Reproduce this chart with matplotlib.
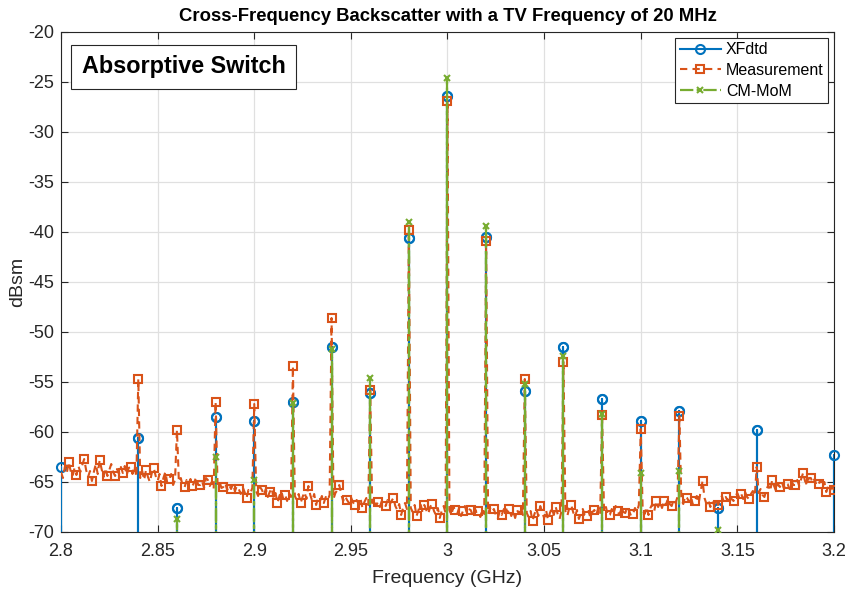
import numpy as np
import matplotlib
matplotlib.use("Agg")
import matplotlib.pyplot as plt

plt.rcParams['font.family'] = ['Liberation Sans', 'DejaVu Sans']
plt.rcParams['axes.unicode_minus'] = False

# ---------------- data ----------------
harm_freq = [2.80, 2.82, 2.84, 2.86, 2.88, 2.90, 2.92, 2.94, 2.96, 2.98, 3.00,
             3.02, 3.04, 3.06, 3.08, 3.10, 3.12, 3.14, 3.16, 3.18, 3.20]
xfdtd_vals = [-63.5, np.nan, -60.6, -67.6, -58.5, -58.9, -57.0, -51.5, -56.1, -40.6, -26.4,
              -40.5, -55.9, -51.5, -56.7, -58.9, -57.9, -67.6, -59.8, np.nan, -62.3]

cm_freq = [2.86, 2.88, 2.90, 2.92, 2.94, 2.96, 2.98, 3.00, 3.02, 3.04, 3.06,
           3.08, 3.10, 3.12, 3.14]
cm_vals = [-68.7, -62.5, -64.8, -57.1, -51.7, -54.6, -39.0, -24.6, -39.4, -55.2, -52.4,
           -58.2, -64.1, -63.9, -69.8]

meas_start, meas_step = 2.800, 0.001
meas_vals = [
    -64.0, -64.6, -63.5, -64.1, -63.0, -63.9, -64.4, -63.6, -64.3, -63.4, -64.0, -63.3, -62.7, -63.8, -64.5, -63.9, -64.9, -64.0, -63.2, -64.2,
    -62.8, -63.7, -64.5, -63.6, -64.4, -63.8, -63.2, -64.0, -64.4, -63.7, -64.2, -63.5, -64.1, -63.4, -64.3, -63.6, -63.5, -64.2, -63.4, -64.5,
    -54.7, -64.6, -63.9, -64.8, -63.8, -64.5, -65.0, -64.1, -63.6, -64.4, -64.9, -64.2, -65.4, -64.6, -64.0, -65.1, -64.7, -64.2, -65.3, -64.8,
    -59.8, -65.0, -64.6, -65.4, -65.5, -64.8, -65.2, -64.7, -65.4, -65.0, -64.5, -65.3, -65.3, -64.9, -65.6, -64.6, -64.8, -65.4, -65.0, -65.7,
    -57.0, -65.2, -64.9, -65.6, -65.5, -65.1, -65.8, -65.3, -65.7, -65.2, -65.9, -65.4, -65.7, -66.2, -65.5, -66.0, -66.6, -65.8, -66.1, -65.6,
    -57.2, -65.9, -66.4, -65.5, -65.8, -66.3, -65.7, -66.5, -66.0, -65.6, -66.6, -66.1, -67.1, -66.4, -65.9, -66.7, -66.3, -66.9, -66.1, -66.5,
    -53.4, -66.4, -66.8, -66.2, -67.1, -66.5, -66.0, -66.7, -65.4, -66.3, -66.9, -66.2, -67.3, -66.6, -66.9, -66.4, -67.1, -66.5, -66.8, -66.3,
    -48.6, -66.7, -66.1, -65.8, -65.3, -66.2, -66.9, -66.4, -66.8, -67.1, -66.5, -67.0, -67.3, -66.8, -67.2, -66.7, -67.6, -67.0, -66.6, -67.3,
    -55.8, -67.1, -66.7, -67.4, -67.0, -67.5, -66.9, -67.2, -67.4, -66.8, -67.3, -66.9, -66.6, -67.4, -67.8, -67.2, -68.3, -67.6, -67.1, -67.7,
    -39.8, -67.6, -68.0, -67.3, -68.4, -67.8, -67.2, -67.9, -67.3, -67.8, -68.2, -67.5, -67.2, -67.9, -68.3, -67.6, -68.6, -67.9, -67.4, -68.1,
    -26.9, -67.8, -68.3, -67.5, -67.8, -68.2, -67.6, -68.4, -67.9, -67.4, -68.1, -67.7, -67.8, -68.3, -67.6, -68.0, -67.9, -68.5, -67.7, -68.2,
    -40.9, -68.2, -67.6, -68.0, -67.7, -68.3, -68.7, -67.9, -68.3, -67.8, -67.4, -68.1, -67.7, -68.4, -67.9, -68.6, -67.8, -68.2, -67.5, -68.3,
    -54.7, -68.1, -68.5, -67.9, -68.9, -68.2, -67.7, -68.4, -67.4, -68.0, -68.6, -67.8, -68.8, -68.1, -67.6, -68.3, -67.5, -68.2, -68.7, -67.9,
    -53.0, -67.9, -68.4, -67.6, -67.3, -68.0, -68.5, -67.8, -68.7, -68.1, -67.7, -68.3, -68.4, -67.9, -68.6, -68.0, -67.8, -68.3, -67.6, -68.2,
    -58.3, -68.0, -67.5, -68.4, -68.3, -67.7, -68.1, -67.4, -67.9, -68.3, -67.6, -68.0, -68.1, -67.5, -67.9, -68.4, -68.2, -67.6, -68.0, -67.3,
    -59.7, -67.8, -68.2, -67.5, -68.3, -67.6, -67.2, -67.9, -66.9, -67.5, -67.0, -67.6, -66.9, -67.3, -66.7, -67.2, -67.4, -66.8, -67.1, -66.5,
    -58.4, -66.8, -67.2, -66.4, -66.6, -67.0, -66.5, -67.3, -66.9, -66.4, -67.1, -65.9, -64.9, -66.6, -67.2, -66.8, -67.5, -66.9, -67.3, -66.7,
    -67.3, -66.8, -66.4, -67.0, -66.5, -66.9, -66.3, -66.7, -66.9, -66.4, -66.1, -66.6, -66.2, -66.7, -66.0, -66.5, -66.7, -66.2, -65.9, -66.4,
    -63.5, -66.1, -65.7, -66.3, -66.5, -65.8, -65.3, -65.9, -64.8, -65.4, -65.9, -65.2, -65.5, -65.0, -65.6, -65.1, -65.2, -65.7, -64.9, -65.3,
    -65.3, -64.8, -65.4, -64.7, -64.1, -64.9, -65.3, -64.6, -64.6, -65.1, -64.7, -65.4, -65.2, -64.8, -65.5, -65.0, -66.0, -65.4, -65.8, -65.5,
    -65.8,
]

x_ticks = [2.8, 2.85, 2.9, 2.95, 3.0, 3.05, 3.1, 3.15, 3.2]
x_ticklabels = ['2.8', '2.85', '2.9', '2.95', '3', '3.05', '3.1', '3.15', '3.2']
y_ticks = [-70, -65, -60, -55, -50, -45, -40, -35, -30, -25, -20]

# ---------------- helpers ----------------
FLOOR = -300.0


def stem_path(freqs, vals):
    f = np.asarray(freqs, dtype=float)
    v = np.asarray(vals, dtype=float)
    fl = np.where(np.isnan(v), np.nan, FLOOR)
    x = np.repeat(f, 3)
    y = np.column_stack([fl, v, fl]).ravel()
    return x, y, list(range(1, len(x), 3))


meas_freq = meas_start + meas_step * np.arange(len(meas_vals))

# ---------------- figure ----------------
fig = plt.figure(figsize=(8.48, 5.90), dpi=100)
ax = fig.add_axes([61 / 848, 1 - 532 / 590, (834 - 61) / 848, (532 - 32) / 590])

c_blue = '#0072BD'
c_orange = '#D95319'
c_green = '#77AC30'

xb, yb, mb = stem_path(harm_freq, xfdtd_vals)
ax.plot(xb, yb, color=c_blue, lw=1.5, marker='o', markevery=mb, ms=6.5,
        mfc='none', mec=c_blue, mew=1.5, label='XFdtd', zorder=3)
# markers of the edge points are not clipped (as in the original)
ax.plot(harm_freq, xfdtd_vals, ls='none', marker='o', ms=6.5, mfc='none',
        mec=c_blue, mew=1.5, clip_on=False, zorder=3)

ax.plot(meas_freq, meas_vals, color=c_orange, lw=1.5, ls=(0, (3.5, 2.5)),
        marker='s', markevery=slice(4, None, 4), ms=6, mfc='none', mec=c_orange,
        mew=1.5, label='Measurement', zorder=4)

xg, yg, mg = stem_path(cm_freq, cm_vals)
ax.plot(xg, yg, color=c_green, lw=1.6, ls=(0, (6, 1.5, 1.5, 1.5)), marker='x',
        markevery=mg, ms=5, mec=c_green, mew=1.5, label='CM-MoM', zorder=5)

ax.set_xlim(2.8, 3.2)
ax.set_ylim(-70, -20)
ax.set_xticks(x_ticks)
ax.set_xticklabels(x_ticklabels)
ax.set_yticks(y_ticks)

ax.grid(True, color='#e0e0e0', lw=0.9)
ax.set_axisbelow(True)
for s in ax.spines.values():
    s.set_color('#262626')
    s.set_linewidth(0.8)
ax.tick_params(direction='in', length=5, width=0.8, colors='#262626',
               labelsize=13, top=True, right=True)
ax.tick_params(axis='x', pad=8)
ax.tick_params(axis='y', pad=5)

ax.set_xlabel('Frequency (GHz)', fontsize=14, color='#262626', labelpad=7)
ax.set_ylabel('dBsm', fontsize=14, color='#262626', labelpad=1)
ax.set_title('Cross-Frequency Backscatter with a TV Frequency of 20 MHz',
             fontsize=13.3, fontweight='bold', color='black', pad=8)

leg = ax.legend(loc='upper right', fontsize=11.5, frameon=True, fancybox=False,
                framealpha=1, edgecolor='#262626', handlelength=2.6,
                borderaxespad=0.35, handletextpad=0.3, labelspacing=0.35,
                borderpad=0.3)
leg.get_frame().set_linewidth(0.8)

ax.text(0.159, 0.93, 'Absorptive Switch', transform=ax.transAxes,
        ha='center', va='center', fontsize=16.8, fontweight='bold',
        bbox=dict(boxstyle='square,pad=0.45', fc='white', ec='#262626', lw=0.8),
        zorder=10)

fig.savefig('out.png', dpi=100)
